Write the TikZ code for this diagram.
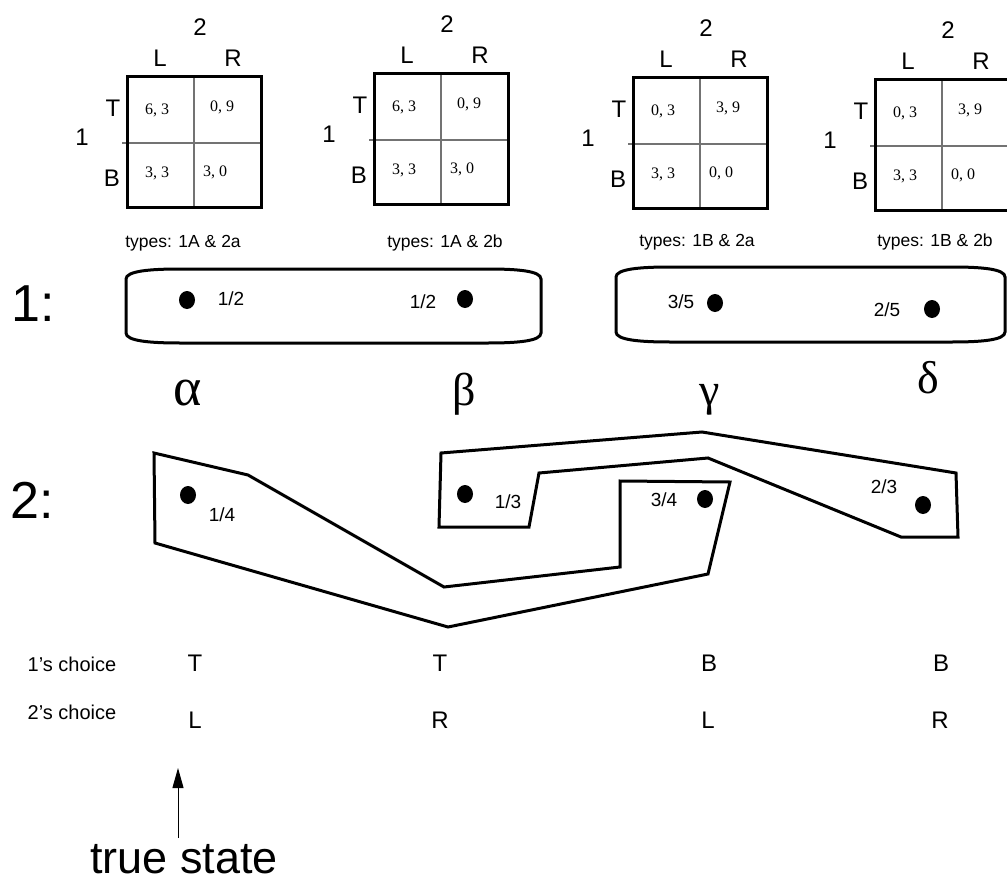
\documentclass[tikz,border=0pt]{standalone}
\usepackage{fontspec}
\setmainfont{Liberation Sans}
\newfontfamily\tnr{Liberation Serif}
\usetikzlibrary{arrows.meta}
\tikzset{
  outer/.style={line width=3pt},
  inner/.style={line width=1.4pt, draw=black!55},
  hlab/.style={font=\fontsize{24}{26}\selectfont, inner sep=0pt},
  entry/.style={font=\tnr\fontsize{16}{18}\selectfont, inner sep=0pt},
  typelab/.style={font=\fontsize{17.5}{19}\selectfont, inner sep=0pt},
  prob/.style={font=\fontsize{19}{21}\selectfont, inner sep=0pt},
  greek/.style={font=\tnr\fontsize{46}{48}\selectfont, inner sep=0pt},
  player/.style={font=\fontsize{52}{56}\selectfont, inner sep=0pt},
  choice/.style={font=\fontsize{24}{26}\selectfont, inner sep=0pt},
  rowlab/.style={font=\fontsize{20}{22}\selectfont, inner sep=0pt},
  infoset/.style={line width=3pt, line join=miter},
}
\newcommand\paymat[7]{%
  \draw[inner] (#2-5,#3+66) -- (#2+136,#3+66);
  \draw[inner] (#2+67,#3) -- (#2+67,#3+130);
  \draw[outer] (#2,#3) rectangle (#2+134,#3+130);
  \node[hlab] (#1two) at (#2+73,#3-50) {2};
  \node[hlab] (#1L) at (#2+33,#3-19) {L};
  \node[hlab] (#1R) at (#2+106,#3-19) {R};
  \node[hlab] (#1T) at (#2-14,#3+31) {T};
  \node[hlab] (#1B) at (#2-15,#3+101) {B};
  \node[hlab] (#1one) at (#2-45,#3+60) {1};
  \node[entry] (#1tl) at (#2+30,#3+33) {#4};
  \node[entry] (#1tr) at (#2+95,#3+30) {#5};
  \node[entry] (#1bl) at (#2+30,#3+96) {#6};
  \node[entry] (#1br) at (#2+88,#3+95) {#7};
}
\newcommand\blob[2]{\fill (#1,#2) ellipse [x radius=8, y radius=9];}
\begin{document}
\begin{tikzpicture}[x=1pt, y=-1pt]
\useasboundingbox (0,0) rectangle (1007,883);
% payoff matrices
\paymat{ma}{127}{77}{6, 3}{0, 9}{3, 3}{3, 0}
\paymat{mb}{374}{74}{6, 3}{0, 9}{3, 3}{3, 0}
\paymat{mc}{633}{78}{0, 3}{3, 9}{3, 3}{0, 0}
\paymat{md}{875}{80}{0, 3}{3, 9}{3, 3}{0, 0}
\node[typelab] (ta) at (183,243) {types: 1A \& 2a};
\node[typelab] (tb) at (445,243) {types: 1A \& 2b};
\node[typelab] (tc) at (697,242) {types: 1B \& 2a};
\node[typelab] (td) at (935,242) {types: 1B \& 2b};
% player 1 information sets
\node[player] (p1) at (33,304) {1:};
\draw[line width=3pt] (126,279) .. controls (126,271) and (150,269) .. (180,269) -- (488,269)
  .. controls (518,269) and (541,271) .. (541,279) -- (541,333)
  .. controls (541,341) and (518,343) .. (488,343) -- (180,343)
  .. controls (150,343) and (126,341) .. (126,333) -- cycle;
\draw[line width=3pt] (616,277) .. controls (616,269) and (640,267) .. (670,267) -- (952,267)
  .. controls (982,267) and (1005,269) .. (1005,277) -- (1005,332)
  .. controls (1005,340) and (982,342) .. (952,342) -- (670,342)
  .. controls (640,342) and (616,340) .. (616,332) -- cycle;
\blob{187}{300}\blob{465}{299}\blob{715}{303}\blob{932}{309}
\node[prob] (qa) at (231,299) {1/2};
\node[prob] (qb) at (423,302) {1/2};
\node[prob] (qc) at (681,302) {3/5};
\node[prob] (qd) at (887,310) {2/5};
% state names
\node[greek, font=\tnr\fontsize{54}{56}\selectfont] (alpha) at (188,393) {α};
\node[greek] (beta) at (464,394) {β};
\node[greek] (gamma) at (710,400) {γ};
\node[greek] (delta) at (928,378) {δ};
% player 2 information sets
\node[player] (p2) at (32,500) {2:};
\draw[infoset] (154,453) -- (248,475) -- (444,587) -- (620,567) -- (620,481) -- (730,482)
  -- (708,574) -- (448,627) -- (155,543) -- cycle;
\draw[infoset] (441,453) -- (702,432) -- (956,473) -- (958,537) -- (901,537) -- (708,458)
  -- (539,473) -- (529,527) -- (439,527) -- cycle;
\blob{188}{495}\blob{465}{494}\blob{705}{499}\blob{923}{505}
\node[prob] (ra) at (222,515) {1/4};
\node[prob] (rb) at (508,502) {1/3};
\node[prob] (rc) at (664,500) {3/4};
\node[prob] (rd) at (884,487) {2/3};
% choices
\node[rowlab] (c1) at (72,664) {1's choice};
\node[rowlab] (c2) at (72,712) {2's choice};
\node[choice] (t1) at (195,663) {T};
\node[choice] (t2) at (440,663) {T};
\node[choice] (t3) at (709,663) {B};
\node[choice] (t4) at (941,663) {B};
\node[choice] (u1) at (195,720) {L};
\node[choice] (u2) at (440,720) {R};
\node[choice] (u3) at (708,720) {L};
\node[choice] (u4) at (940,720) {R};
% true state
\coordinate (abase) at (178,838);
\coordinate (atip) at (178,768);
\draw[line width=1pt, -{Triangle[length=20pt, width=11pt]}] (abase) -- (atip);
\node[font=\fontsize{45}{48}\selectfont, inner sep=0pt] (ts) at (184,859) {true state};
\end{tikzpicture}
\end{document}
